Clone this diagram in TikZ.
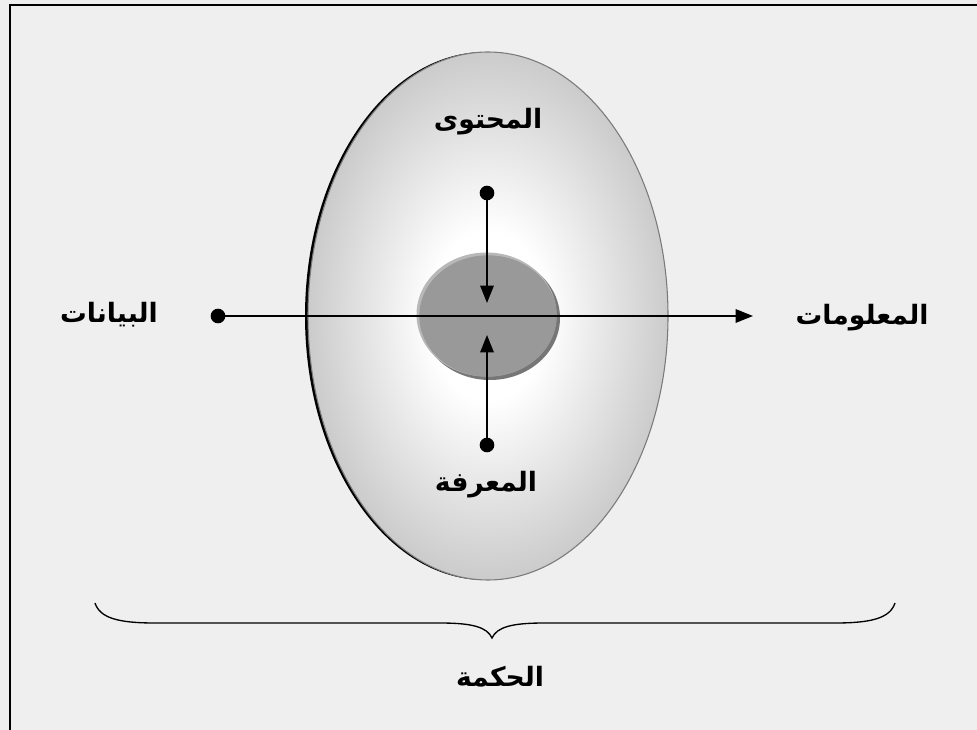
\documentclass[tikz,border=0pt]{standalone}
\usepackage{fontspec}
\newfontfamily\arabicfont[Script=Arabic]{DejaVu Sans}
\TeXXeTstate=1
\usetikzlibrary{arrows.meta}
\definecolor{bgcol}{HTML}{EFEFEF}
\definecolor{eggedge}{HTML}{BCBCBC}
\definecolor{eggline}{HTML}{7A7A7A}
\definecolor{yolk}{HTML}{999999}
\definecolor{yolklight}{HTML}{B8B8B8}
\definecolor{yolkdark}{HTML}{767676}
\pgfdeclareradialshading{eggshade}{\pgfpoint{0bp}{0bp}}{color(0bp)=(white); color(8bp)=(white); color(30bp)=(eggedge); color(50bp)=(eggedge)}
\tikzset{
  lbl/.style={font=\arabicfont\bfseries\fontsize{20}{22}\selectfont, inner sep=0pt},
  dotn/.style={circle, fill=black, inner sep=0pt, minimum size=11pt},
  arr/.style={line width=1.5pt, -{Triangle[length=13pt,width=10pt]}},
  bracestyle/.style={line width=1pt},
}
\begin{document}
\begin{tikzpicture}[x=0.75pt,y=-0.75pt]
\useasboundingbox (0,0) rectangle (977,730);
\fill[bgcol] (0,0) rectangle (977,730);
\draw[line width=1.5pt] (10,730) -- (10,5) -- (977,5);
% big egg
\fill[black] (485,316) ellipse [x radius=135pt, y radius=198pt];
\path[shading=eggshade, draw=eggline, line width=0.8pt] (488,316) ellipse [x radius=135pt, y radius=198pt];
% yolk
\fill[yolkdark] (490,318) ellipse [x radius=52.5pt, y radius=46.5pt];
\fill[yolklight] (486.5,314.5) ellipse [x radius=52.5pt, y radius=46.5pt];
\fill[yolk] (488,316) ellipse [x radius=51.5pt, y radius=45.5pt];
% labels
\node[lbl] (content) at (488,122) {\beginR المحتوى\endR};
\node[lbl] (data) at (109,315) {\beginR البيانات\endR};
\node[lbl] (info) at (862,318) {\beginR المعلومات\endR};
\node[lbl] (know) at (486,485) {\beginR المعرفة\endR};
\node[lbl] (wisdom) at (500,677) {\beginR الحكمة\endR};
% dots and tips
\node[dotn] (dtop) at (487,193) {};
\node[dotn] (dbot) at (487,445) {};
\node[dotn] (dleft) at (218,316) {};
\coordinate (ttop) at (487,303);
\coordinate (tbot) at (487,335);
\coordinate (tright) at (753,316);
\draw[arr] (dtop.center) -- (ttop);
\draw[arr] (dbot.center) -- (tbot);
\draw[arr] (dleft.center) -- (tright);
% brace
\coordinate (bl) at (95,603);
\coordinate (br) at (895,603);
\coordinate (btip) at (492,638);
\draw[bracestyle] (bl) .. controls (100,618) and (118,623) .. (155,623) -- (440,623)
  .. controls (472,623) and (487,627) .. (btip)
  .. controls (497,627) and (512,623) .. (544,623) -- (835,623)
  .. controls (872,623) and (890,618) .. (br);
\end{tikzpicture}
\end{document}
